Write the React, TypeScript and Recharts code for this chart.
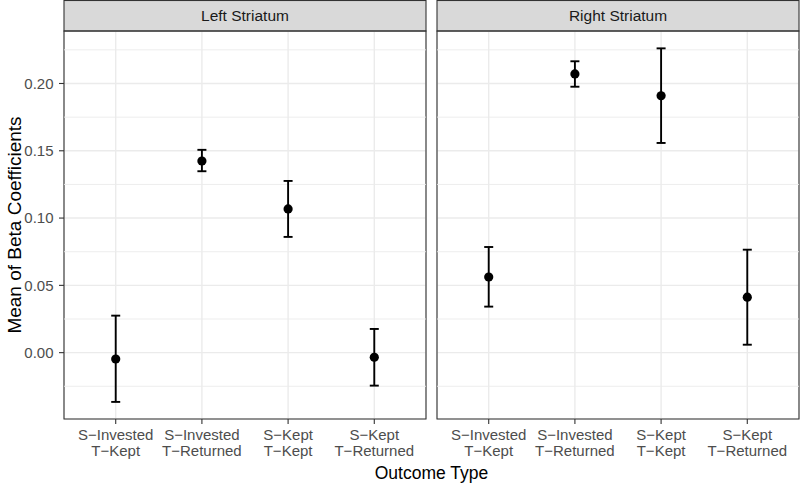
import React from 'react';
import {
  ComposedChart,
  Scatter,
  ErrorBar,
  XAxis,
  YAxis,
  CartesianGrid,
  ReferenceLine,
  ReferenceArea,
} from 'recharts';

// ---- data ----
const categories: string[][] = [
  ['S\u2212Invested', 'T\u2212Kept'],
  ['S\u2212Invested', 'T\u2212Returned'],
  ['S\u2212Kept', 'T\u2212Kept'],
  ['S\u2212Kept', 'T\u2212Returned'],
];
const categoryIndex = [1, 2, 3, 4];

const panelTitles = ['Left Striatum', 'Right Striatum'];

const leftMean = [-0.0047, 0.1424, 0.1068, -0.0034];
const leftLower = [-0.0366, 0.1348, 0.086, -0.0245];
const leftUpper = [0.0275, 0.1507, 0.1276, 0.0176];

const rightMean = [0.0562, 0.2071, 0.1909, 0.0412];
const rightLower = [0.0342, 0.1976, 0.1558, 0.0059];
const rightUpper = [0.0785, 0.2165, 0.2261, 0.0765];

const yTicks = [0, 0.05, 0.1, 0.15, 0.2];
const yMinorTicks = [-0.025, 0.025, 0.075, 0.125, 0.175, 0.225];
const yDomain: [number, number] = [-0.0493, 0.239];
const xDomain: [number, number] = [0.4, 4.6];

const xTitle = 'Outcome Type';
const yTitle = 'Mean of Beta Coefficients';

const build = (mean: number[], lower: number[], upper: number[]) =>
  categoryIndex.map((x, i) => ({
    x,
    y: mean[i],
    err: [mean[i] - lower[i], upper[i] - mean[i]],
  }));

const leftData = build(leftMean, leftLower, leftUpper);
const rightData = build(rightMean, rightLower, rightUpper);

const FONT = '"Liberation Sans", Arial, Helvetica, sans-serif';

const XTick = (props: any) => {
  const { x, y, payload } = props;
  const lines = categories[Math.round(payload.value) - 1] || ['', ''];
  return (
    <text x={x} y={y} textAnchor="middle" fill="#4D4D4D" fontSize={15} fontFamily={FONT}>
      <tspan x={x} dy="0.71em">{lines[0]}</tspan>
      <tspan x={x} dy={16}>{lines[1]}</tspan>
    </text>
  );
};

const Dot = (props: any) => {
  const { cx, cy } = props;
  return <circle cx={cx} cy={cy} r={4.6} fill="#000" />;
};

const W = 800;
const H = 484;

function Panel({
  data,
  title,
  left,
  right,
  showY,
  extra,
}: {
  data: any[];
  title: string;
  left: number;
  right: number;
  showY: boolean;
  extra?: React.ReactNode;
}) {
  const plotW = W - left - right;
  return (
    <div style={{ position: 'absolute', left: 0, top: 0 }}>
      <ComposedChart
        width={W}
        height={H}
        data={data}
        margin={{ top: 31, right, bottom: 0, left: showY ? 0 : left }}
        style={{ fontFamily: FONT }}
      >
        <CartesianGrid stroke="#EBEBEB" strokeWidth={1.4} />
        {yMinorTicks.map((v) => (
          <ReferenceLine key={v} y={v} stroke="#EBEBEB" strokeWidth={0.9} />
        ))}
        <XAxis
          dataKey="x"
          type="number"
          domain={xDomain}
          ticks={categoryIndex}
          allowDataOverflow
          height={65}
          axisLine={false}
          tickLine={{ stroke: '#333333', strokeWidth: 1.1 }}
          tickSize={5}
          tickMargin={5}
          tick={<XTick />}
          interval={0}
        />
        <YAxis
          dataKey="y"
          type="number"
          domain={yDomain}
          ticks={yTicks}
          allowDataOverflow
          hide={!showY}
          width={showY ? left : 0}
          axisLine={false}
          tickLine={{ stroke: '#333333', strokeWidth: 1.1 }}
          tickSize={5}
          tickMargin={5.5}
          tick={{ fill: '#4D4D4D', fontSize: 15, fontFamily: FONT }}
          tickFormatter={(v: number) => v.toFixed(2)}
        />
        <ReferenceArea
          x1={xDomain[0]}
          x2={xDomain[1]}
          y1={yDomain[0]}
          y2={yDomain[1]}
          fill="none"
          fillOpacity={0}
          stroke="#333333"
          strokeWidth={1.1}
          ifOverflow="visible"
        />
        <Scatter dataKey="y" shape={<Dot />} isAnimationActive={false}>
          <ErrorBar
            dataKey="err"
            direction="y"
            width={4.5}
            stroke="#000"
            strokeWidth={1.9}
            isAnimationActive={false}
          />
        </Scatter>
        <g>
          <rect x={left} y={0.5} width={plotW} height={30.5} fill="#D9D9D9" stroke="#333333" strokeWidth={1.1} />
          <text
            x={left + plotW / 2}
            y={20.7}
            textAnchor="middle"
            fill="#1A1A1A"
            fontSize={15.5}
            fontFamily={FONT}
          >
            {title}
          </text>
        </g>
        {extra}
      </ComposedChart>
    </div>
  );
}

export default function App() {
  const titles = (
    <g>
      <text x={431.5} y={479} textAnchor="middle" fill="#000" fontSize={17.5} fontFamily={FONT}>
        {xTitle}
      </text>
      <text
        x={20.5}
        y={225}
        textAnchor="middle"
        fill="#000"
        fontSize={19}
        fontFamily={FONT}
        transform="rotate(-90 20.5 225)"
      >
        {yTitle}
      </text>
    </g>
  );
  return (
    <div style={{ position: 'absolute', left: 0, top: 0, width: W, height: H, background: '#fff' }}>
      <Panel data={leftData} title={panelTitles[0]} left={64} right={374} showY extra={titles} />
      <Panel data={rightData} title={panelTitles[1]} left={437} right={1} showY={false} />
    </div>
  );
}
